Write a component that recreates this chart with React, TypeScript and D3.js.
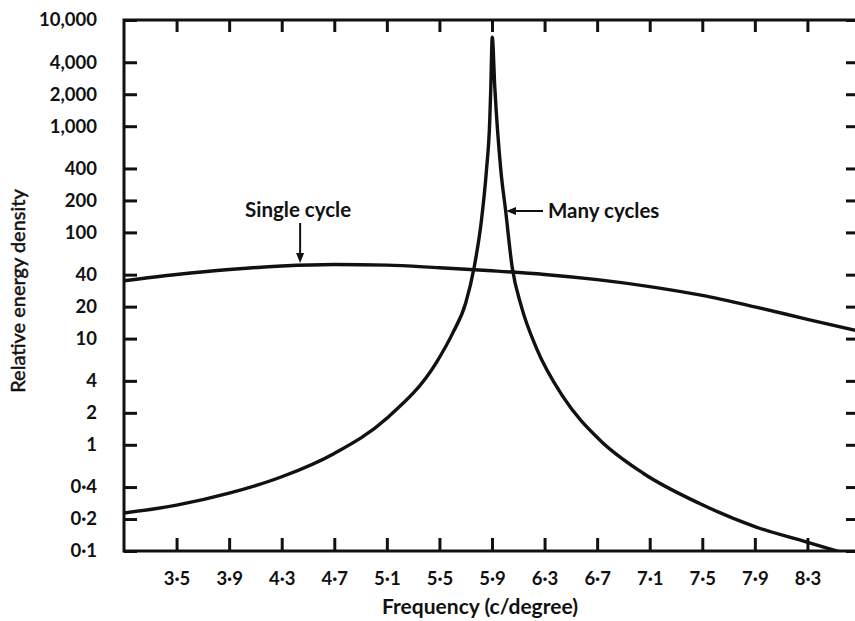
import { useEffect, useRef } from "react";
import * as d3 from "d3";

// frequency axis (c/degree)
const xTicks = [3.5, 3.9, 4.3, 4.7, 5.1, 5.5, 5.9, 6.3, 6.7, 7.1, 7.5, 7.9, 8.3];
const xTickLabels = ["3·5", "3·9", "4·3", "4·7", "5·1", "5·5", "5·9", "6·3", "6·7", "7·1", "7·5", "7·9", "8·3"];

// relative energy density (log)
const yTicks = [0.1, 0.2, 0.4, 1, 2, 4, 10, 20, 40, 100, 200, 400, 1000, 2000, 4000, 10000];
const yTickLabels = ["0·1", "0·2", "0·4", "1", "2", "4", "10", "20", "40", "100", "200", "400", "1,000", "2,000", "4,000", "10,000"];

// single cycle spectrum
const singleFreq = [3.1, 3.5, 3.9, 4.3, 4.7, 5.1, 5.5, 5.9, 6.3, 6.7, 7.1, 7.5, 7.9, 8.3, 8.7];
const singleValue = [35, 40.1, 44.7, 48.2, 49.8, 49.2, 46.4, 43.5, 40.2, 35.9, 30.9, 25.5, 19.9, 15.2, 11.7];

// many cycles spectrum
const manyFreq = [
  3.1, 3.5, 3.9, 4.3, 4.7, 5.1, 5.48, 5.6, 5.70, 5.765, 5.82, 5.858, 5.883, 5.891, 5.902,
  5.921, 5.967, 6.003, 6.053, 6.124, 6.238, 6.44, 6.72, 7.05, 7.48, 7.91, 8.29, 8.57,
];
const manyValue = [
  0.228, 0.27, 0.35, 0.5, 0.83, 1.78, 6.05, 11.2, 21.6, 47.5, 131, 387, 1143, 2355, 6900,
  2355, 387, 163, 47.5, 20, 8.15, 2.84, 1.11, 0.54, 0.28, 0.168, 0.122, 0.096,
];

const FONT = "Lato, 'Open Sans', sans-serif";
const INK = "#111";

export default function App() {
  const ref = useRef<SVGSVGElement>(null);

  useEffect(() => {
    if (!ref.current) return;
    const svg = d3.select(ref.current);
    svg.selectAll("*").remove();

    const left = 124, right = 860, top = 20, bottom = 551;
    const x = d3.scaleLinear().domain([3.1, 8.7]).range([left, right]);
    const y = d3.scaleLog().domain([0.1, 10000]).range([bottom, top]);

    const styleAxis = (g: d3.Selection<SVGGElement, unknown, null, undefined>) => {
      g.select(".domain").remove();
      g.selectAll(".tick line").attr("stroke", INK).attr("stroke-width", 3);
      g.selectAll(".tick text")
        .attr("fill", INK)
        .attr("font-family", FONT)
        .attr("font-weight", 700)
        .attr("font-size", 18.5);
    };

    // bottom axis
    svg.append("g")
      .attr("transform", `translate(0,${bottom})`)
      .call(
        d3.axisBottom(x)
          .tickValues(xTicks)
          .tickSize(-13)
          .tickPadding(21)
          .tickFormat((_, i) => xTickLabels[i])
      )
      .call(styleAxis);

    // top axis
    svg.append("g")
      .attr("transform", `translate(0,${top})`)
      .call(d3.axisTop(x).tickValues(xTicks).tickSize(-12).tickFormat(() => ""))
      .call(styleAxis);

    // left axis
    svg.append("g")
      .attr("transform", `translate(${left},0)`)
      .call(
        d3.axisLeft(y)
          .tickValues(yTicks)
          .tickSize(-13)
          .tickPadding(27)
          .tickFormat((_, i) => yTickLabels[i])
      )
      .call(styleAxis);

    // right axis
    svg.append("g")
      .attr("transform", `translate(${right},0)`)
      .call(d3.axisRight(y).tickValues(yTicks).tickSize(-14).tickFormat(() => ""))
      .call(styleAxis);

    // frame
    svg.append("rect")
      .attr("x", left)
      .attr("y", top)
      .attr("width", right - left)
      .attr("height", bottom - top)
      .attr("fill", "none")
      .attr("stroke", INK)
      .attr("stroke-width", 3);

    svg.append("clipPath")
      .attr("id", "plot-clip")
      .append("rect")
      .attr("x", left)
      .attr("y", top)
      .attr("width", right - left)
      .attr("height", bottom - top);

    const line = d3.line<number>()
      .x((d) => x(d))
      .curve(d3.curveMonotoneX);

    svg.append("path")
      .attr("clip-path", "url(#plot-clip)")
      .attr("d", line.y((_, i) => y(singleValue[i]))(singleFreq))
      .attr("fill", "none")
      .attr("stroke", INK)
      .attr("stroke-width", 3.4);

    svg.append("path")
      .attr("clip-path", "url(#plot-clip)")
      .attr("d", line.y((_, i) => y(manyValue[i]))(manyFreq))
      .attr("fill", "none")
      .attr("stroke", INK)
      .attr("stroke-width", 3.4)
      .attr("stroke-linejoin", "round");

    // annotations
    const label = (tx: number, ty: number, text: string, anchor: string) =>
      svg.append("text")
        .attr("x", tx)
        .attr("y", ty)
        .attr("text-anchor", anchor)
        .attr("font-family", FONT)
        .attr("font-weight", 700)
        .attr("font-size", 20.5)
        .attr("fill", INK)
        .text(text);

    const sx = x(4.44);
    label(sx - 2, 217, "Single cycle", "middle");
    svg.append("line")
      .attr("x1", sx).attr("x2", sx)
      .attr("y1", 223).attr("y2", 256)
      .attr("stroke", INK).attr("stroke-width", 2);
    svg.append("path")
      .attr("d", `M${sx - 4},253 L${sx + 4},253 L${sx},263 Z`)
      .attr("fill", INK);

    const my = 211;
    label(548, 218, "Many cycles", "start");
    svg.append("line")
      .attr("x1", 543).attr("x2", 513)
      .attr("y1", my).attr("y2", my)
      .attr("stroke", INK).attr("stroke-width", 2);
    svg.append("path")
      .attr("d", `M516,${my - 4} L516,${my + 4} L506,${my} Z`)
      .attr("fill", INK);

    // axis titles
    svg.append("text")
      .attr("x", 480)
      .attr("y", 614)
      .attr("text-anchor", "middle")
      .attr("font-family", FONT)
      .attr("font-weight", 700)
      .attr("font-size", 21)
      .attr("fill", INK)
      .text("Frequency (c/degree)");

    svg.append("text")
      .attr("transform", "translate(25,291) rotate(-90)")
      .attr("text-anchor", "middle")
      .attr("font-family", FONT)
      .attr("font-weight", 400)
      .attr("font-size", 20)
      .attr("fill", INK)
      .attr("stroke", INK)
      .attr("stroke-width", 0.5)
      .text("Relative energy density");
  }, []);

  return (
    <svg
      ref={ref}
      width={855}
      height={621}
      style={{ position: "absolute", left: 0, top: 0, background: "#fff" }}
    />
  );
}
